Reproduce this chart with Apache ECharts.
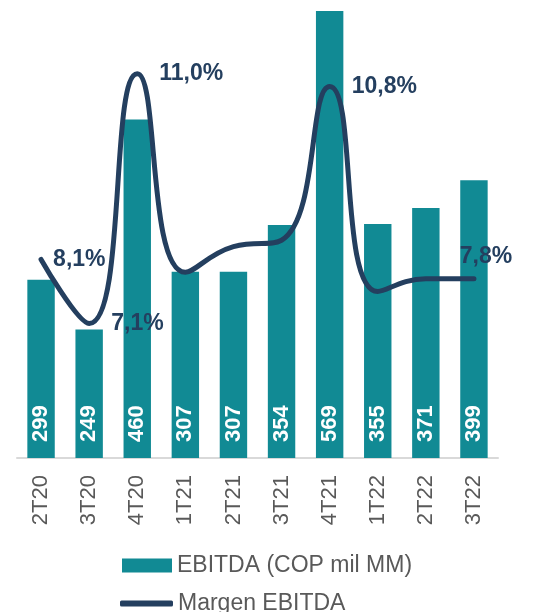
<!DOCTYPE html>
<html>
<head>
<meta charset="utf-8">
<script src="https://cdn.jsdelivr.net/npm/echarts@6/dist/echarts.min.js"></script>
<style>
  html, body { margin: 0; padding: 0; background: #fff; }
  #chart { width: 545px; height: 612px; }
</style>
</head>
<body>
<div id="chart"></div>
<script>
var quarters = ['2T20', '3T20', '4T20', '1T21', '2T21', '3T21', '4T21', '1T22', '2T22', '3T22'];
var ebitda = [299, 249, 460, 307, 307, 354, 569, 355, 371, 399];
var margin = [8.1, 7.1, 11.0, 7.9, 8.3, 8.4, 10.8, 7.6, 7.8, 7.8];
var labelledPoints = [0, 1, 2, 6, 9];

var teal = '#118a94';
var navy = '#243f5f';
var font = 'Liberation Sans, Arial, sans-serif';

function pct(v) {
    return v.toFixed(1).replace('.', ',') + '%';
}

var marginData = margin.map(function (v, i) {
    var item = { value: v };
    if (labelledPoints.indexOf(i) < 0) {
        item.label = { show: false };
    } else if (i === 0) {
        item.label = { offset: [-10, 0] };
    } else if (i === margin.length - 1) {
        item.label = { position: 'top', distance: 10, offset: [12, 0] };
    }
    return item;
});

var legendText = { fontFamily: font, fontSize: 23, color: '#595959' };

var chart = echarts.init(document.getElementById('chart'));
chart.setOption({
    animation: false,
    grid: { left: 17, right: 47, top: 0, bottom: 154 },
    legend: [
        {
            left: 122,
            top: 554,
            padding: 0,
            itemWidth: 50,
            itemHeight: 14,
            textStyle: legendText,
            data: [{ name: 'EBITDA (COP mil MM)', icon: 'rect' }]
        },
        {
            left: 120,
            top: 592,
            padding: 0,
            itemWidth: 53,
            itemHeight: 6,
            textStyle: legendText,
            data: [{ name: 'Margen EBITDA', icon: 'roundRect', itemStyle: { color: navy } }]
        }
    ],
    xAxis: {
        type: 'category',
        data: quarters,
        axisTick: { show: false },
        axisLine: { lineStyle: { color: '#d9d9d9', width: 2 } },
        axisLabel: {
            rotate: 90,
            margin: 17,
            fontFamily: font,
            fontSize: 22,
            color: '#595959'
        }
    },
    yAxis: [
        { type: 'value', min: 120, max: 580, show: false, splitLine: { show: false } },
        { type: 'value', min: 5, max: 12.15, show: false, splitLine: { show: false } }
    ],
    series: [
        {
            name: 'EBITDA (COP mil MM)',
            type: 'bar',
            data: ebitda,
            barWidth: '57%',
            itemStyle: { color: teal },
            label: {
                show: true,
                position: 'insideBottom',
                rotate: 90,
                align: 'left',
                verticalAlign: 'middle',
                distance: 16,
                fontFamily: font,
                fontSize: 22,
                fontWeight: 'bold',
                color: '#fff'
            }
        },
        {
            name: 'Margen EBITDA',
            type: 'line',
            yAxisIndex: 1,
            data: marginData,
            smooth: 0.5,
            symbol: 'circle',
            symbolSize: 0.1,
            showSymbol: true,
            lineStyle: { color: navy, width: 5, cap: 'round' },
            itemStyle: { color: navy },
            label: {
                show: true,
                position: 'right',
                distance: 22,
                fontFamily: font,
                fontSize: 23,
                fontWeight: 'bold',
                color: navy,
                formatter: function (p) { return pct(p.value); }
            }
        }
    ]
});
</script>
</body>
</html>
